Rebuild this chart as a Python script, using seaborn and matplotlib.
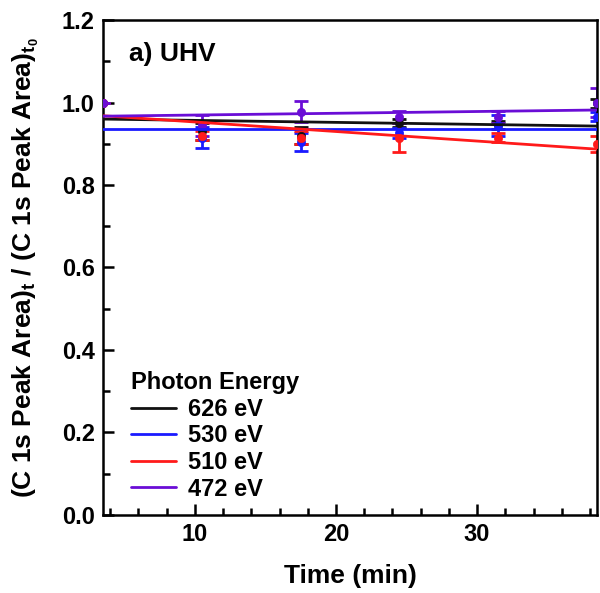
import matplotlib
matplotlib.use("Agg")
import matplotlib.pyplot as plt
from matplotlib.ticker import MultipleLocator
import seaborn as sns
import pandas as pd
import numpy as np

# temps de mesure (min)
time_min = [3.5, 10.5, 17.5, 24.5, 31.5, 38.5]

energies = ['626 eV', '530 eV', '510 eV', '472 eV']
colors = ['#111111', '#1a1aff', '#ff1a1a', '#6a0dd6']

ratio_626 = [1.0, 0.93, 0.92, 0.95, 0.945, 0.998]
ratio_530 = [1.0, 0.915, 0.905, 0.926, 0.945, 0.966]
ratio_510 = [1.0, 0.92, 0.915, 0.915, 0.915, 0.90]
ratio_472 = [1.0, 0.945, 0.978, 0.965, 0.965, 1.0]

err_626 = [0.0, 0.02, 0.02, 0.01, 0.01, 0.01]
err_530 = [0.0, 0.025, 0.022, 0.012, 0.025, 0.01]
err_510 = [0.0, 0.01, 0.015, 0.035, 0.01, 0.02]
err_472 = [0.0, 0.025, 0.025, 0.015, 0.015, 0.035]

# ajustements linéaires (valeurs aux bords)
fit_t = [3.5, 38.5]
fit_626 = [0.960, 0.943]
fit_530 = [0.935, 0.935]
fit_510 = [0.968, 0.887]
fit_472 = [0.967, 0.982]

ratios = [ratio_626, ratio_530, ratio_510, ratio_472]
errs = [err_626, err_530, err_510, err_472]
fits = [fit_626, fit_530, fit_510, fit_472]

sns.set_style("ticks")
plt.rcParams['font.family'] = ['Liberation Sans', 'DejaVu Sans']
plt.rcParams['font.weight'] = 'bold'
plt.rcParams['mathtext.fontset'] = 'custom'
plt.rcParams['mathtext.bf'] = 'Liberation Sans:bold'
plt.rcParams['mathtext.default'] = 'bf'
for k in ['text.color', 'axes.labelcolor', 'xtick.color', 'ytick.color']:
    plt.rcParams[k] = 'black'

fig, ax = plt.subplots(figsize=(6.0, 5.93), dpi=100)
fig.subplots_adjust(left=0.172, right=0.995, top=0.966, bottom=0.132)

for name, col, r, e, f in zip(energies, colors, ratios, errs, fits):
    ax.errorbar(time_min, r, yerr=e, fmt='none', ecolor=col, elinewidth=2,
                capsize=5, capthick=2, zorder=2)
    sns.scatterplot(x=time_min, y=r, color=col, s=36, marker='o',
                    edgecolor=col, ax=ax, zorder=3, clip_on=True)
    sns.lineplot(x=fit_t, y=f, color=col, linewidth=2, ax=ax, label=name, zorder=4)

ax.set_xlim(3.5, 38.5)
ax.set_ylim(0.0, 1.2)
ax.xaxis.set_major_locator(MultipleLocator(10))
ax.xaxis.set_minor_locator(MultipleLocator(2))
ax.yaxis.set_major_locator(MultipleLocator(0.2))
ax.yaxis.set_minor_locator(MultipleLocator(0.1))
ax.yaxis.set_major_formatter(matplotlib.ticker.FormatStrFormatter('%.1f'))
ax.tick_params(which='both', direction='in', top=False, right=False,
               labelsize=17, width=1.8, pad=6)
ax.tick_params(which='major', length=8)
ax.tick_params(which='minor', length=5)
for s in ax.spines.values():
    s.set_linewidth(1.8)
    s.set_color('black')

ax.set_xlabel('Time (min)', fontsize=19, fontweight='bold', labelpad=13)
ax.set_ylabel(r'(C 1s Peak Area)$_\mathbf{t}$ / (C 1s Peak Area)$_{\mathbf{t_0}}$',
              fontsize=19, fontweight='bold', labelpad=15)
ax.text(0.053, 0.955, 'a) UHV', transform=ax.transAxes, fontsize=19,
        fontweight='bold', va='top')

leg = ax.legend(title='Photon Energy', loc='lower left', bbox_to_anchor=(0.028, 0.0),
                frameon=False, fontsize=17, title_fontsize=17, handlelength=1.9,
                handletextpad=0.5, borderaxespad=0.3, labelspacing=0.15,
                borderpad=0.3)
leg._legend_box.align = 'left'
leg.get_title().set_fontweight('bold')
for t in leg.get_texts():
    t.set_fontweight('bold')

fig.savefig('out.png', dpi=100)
